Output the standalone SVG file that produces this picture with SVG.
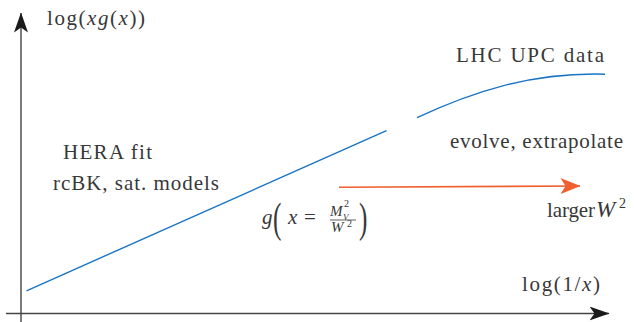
<svg xmlns="http://www.w3.org/2000/svg" width="634" height="322" viewBox="0 0 634 322">
<style>
  text { font-family: 'Liberation Serif', 'DejaVu Serif', 'Times New Roman', serif; fill: #383838; }
  .t { font-size: 21px; }
  .m { font-style: italic; }
  .sm { font-size: 15px; }
  .xs { font-size: 10px; }
  .xxs { font-size: 9px; }
  .big { font-size: 42px; }
  .axis { stroke: #444; stroke-width: 1.4; fill: none; }
  .curve { stroke: #1a74c4; stroke-width: 1.4; fill: none; }
  .red { stroke: #f0602f; stroke-width: 1.6; fill: none; }
</style>
<defs>
  <marker id="ahBlack" markerUnits="userSpaceOnUse" viewBox="0 0 20 14" refX="19.5" refY="7" markerWidth="20" markerHeight="14" orient="auto">
    <path d="M0,0 L20,7 L0,14 L5,7 Z" fill="#1a1a1a"/>
  </marker>
  <marker id="ahRed" markerUnits="userSpaceOnUse" viewBox="0 0 20 16" refX="19.5" refY="8" markerWidth="20" markerHeight="16" orient="auto">
    <path d="M0,0 L20,8 L0,16 L5,8 Z" fill="#f0602f"/>
  </marker>
</defs>

<g id="connectors">
  <line id="y-axis" class="axis" x1="21" y1="322" x2="21" y2="13" marker-end="url(#ahBlack)"/>
  <line id="x-axis" class="axis" x1="6" y1="313.5" x2="609" y2="313.5" marker-end="url(#ahBlack)"/>
  <line id="hera-line" class="curve" x1="26.5" y1="290.8" x2="386.5" y2="130.6"/>
  <path id="lhc-curve" class="curve" d="M417,117.6 C470,93 530,72 605,74.2"/>
  <line id="evolve-arrow" class="red" x1="339" y1="187.3" x2="580" y2="186" marker-end="url(#ahRed)"/>
</g>

<g id="label-yaxis">
  <text class="t" x="47" y="25" textLength="98" lengthAdjust="spacing">log(<tspan class="m">xg</tspan>(<tspan class="m">x</tspan>))</text>
</g>
<g id="label-xaxis">
  <text class="t" x="522" y="291" textLength="78" lengthAdjust="spacing">log(1/<tspan class="m">x</tspan>)</text>
</g>
<g id="label-hera">
  <text class="t" x="63" y="159" textLength="89" lengthAdjust="spacing">HERA fit</text>
  <text class="t" x="53" y="190" textLength="166" lengthAdjust="spacing">rcBK, sat. models</text>
</g>
<g id="label-lhc">
  <text class="t" x="456" y="62" textLength="148" lengthAdjust="spacing">LHC UPC data</text>
</g>
<g id="label-evolve">
  <text class="t" x="450" y="148" textLength="173" lengthAdjust="spacing">evolve, extrapolate</text>
</g>
<g id="label-larger">
  <text class="t" x="547" y="217"><tspan textLength="48" lengthAdjust="spacing">larger</tspan><tspan class="m" x="596" style="font-size:23px">W</tspan><tspan x="619" dy="-9" style="font-size:14px">2</tspan></text>
</g>
<g id="label-formula">
  <text class="t m" x="262" y="224">g</text>
  <text class="big" transform="translate(273,232) scale(0.6,1)">(</text>
  <text class="t m" x="288" y="224">x</text>
  <text class="t" x="304" y="224">=</text>
  <text class="sm m" x="330" y="216">M</text>
  <text class="xs" x="344" y="207">2</text>
  <text class="xxs m" x="343" y="219.5">V</text>
  <line x1="330" y1="220" x2="356" y2="220" stroke="#333" stroke-width="0.8"/>
  <text class="sm m" x="331" y="232">W</text>
  <text class="xs" x="347" y="227">2</text>
  <text class="big" transform="translate(359,232) scale(0.6,1)">)</text>
</g>
</svg>
